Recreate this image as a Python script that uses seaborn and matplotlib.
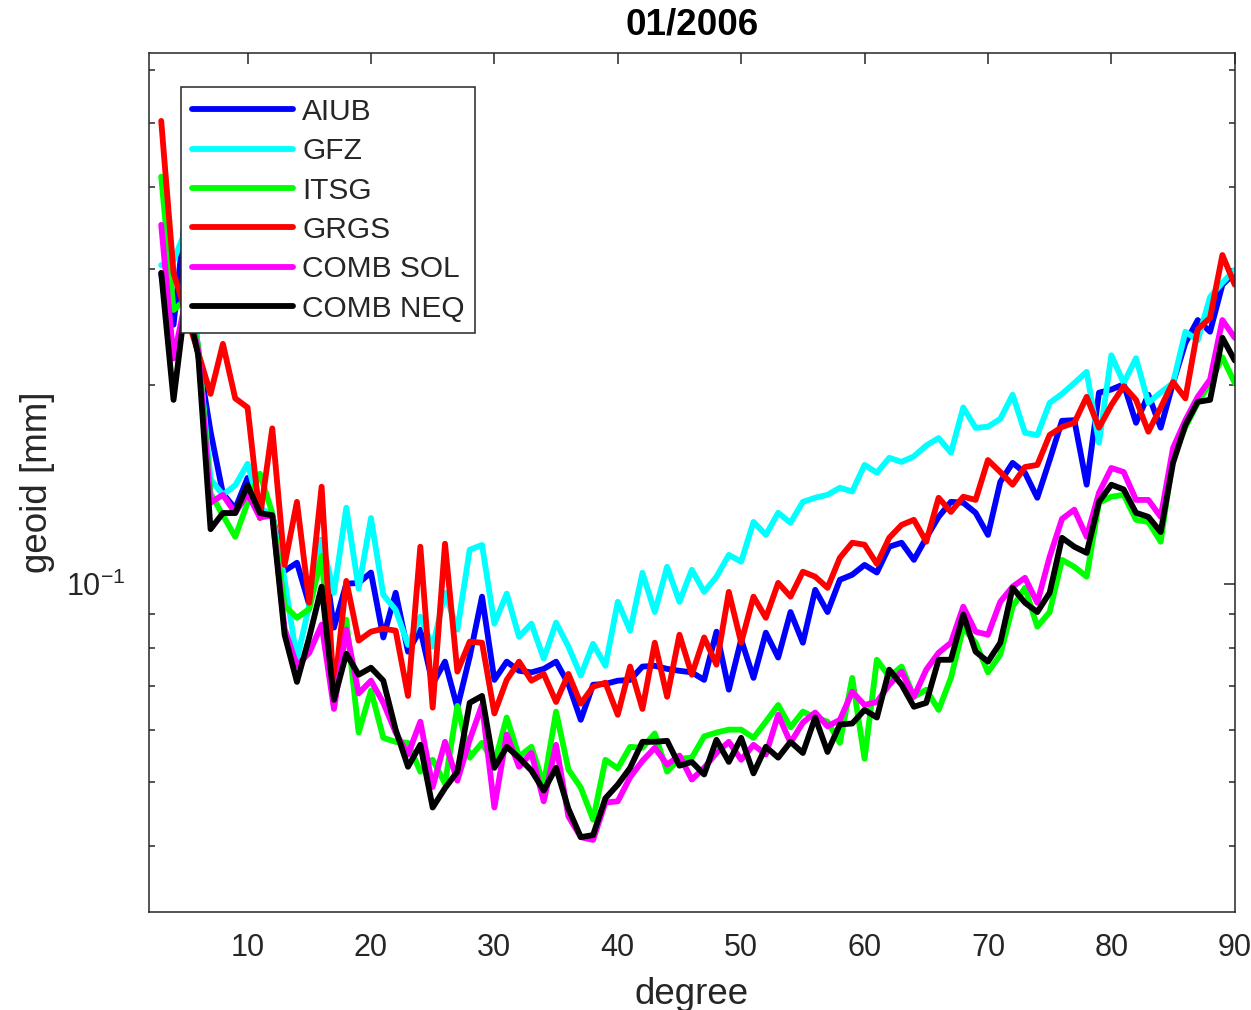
import numpy as np
import pandas as pd
import matplotlib
matplotlib.use("Agg")
import matplotlib.pyplot as plt
import seaborn as sns
from matplotlib.ticker import LogLocator, NullFormatter, FixedLocator

# ----------- DATA (geoid degree amplitudes, mm) ------------
degrees = list(range(3, 91))

aiub = [0.295, 0.247, 0.369, 0.222, 0.170, 0.137, 0.130, 0.1447, 0.1285, 0.127,
        0.1046, 0.1076, 0.0929, 0.1166, 0.0858, 0.100, 0.1003, 0.104, 0.0829, 0.0969,
        0.0789, 0.0852, 0.0705, 0.0762, 0.0649, 0.0775, 0.0956, 0.0715, 0.0762, 0.0738,
        0.0734, 0.0743, 0.0762, 0.0705, 0.0622, 0.0703, 0.0705, 0.0713, 0.0715, 0.0749,
        0.0751, 0.0743, 0.0738, 0.0734, 0.0715, 0.0846, 0.0691, 0.0823, 0.0720, 0.0843,
        0.0773, 0.0906, 0.0814, 0.0979, 0.0906, 0.1014, 0.1032, 0.1068, 0.104, 0.1138,
        0.1154, 0.1087, 0.1174, 0.1263, 0.1331, 0.1327, 0.1281, 0.1186, 0.1427, 0.1525,
        0.1473, 0.135, 0.154, 0.1766, 0.177, 0.1413, 0.1948, 0.197, 0.2006, 0.1754,
        0.1934, 0.1724, 0.2015, 0.2317, 0.251, 0.241, 0.284, 0.296]

gfz = [0.304, 0.309, 0.344, 0.226, 0.144, 0.1364, 0.141, 0.152, 0.1304, 0.127,
       0.1014, 0.0767, 0.0929, 0.1166, 0.0969, 0.1304, 0.0983, 0.1258, 0.0962, 0.0913,
       0.0808, 0.0891, 0.0803, 0.0969, 0.0852, 0.1126, 0.1145, 0.087, 0.0966, 0.0831,
       0.087, 0.0770, 0.0873, 0.0803, 0.0726, 0.0811, 0.0751, 0.0939, 0.0849, 0.1039,
       0.0906, 0.1061, 0.0939, 0.105, 0.0972, 0.1025, 0.1106, 0.108, 0.1241, 0.1186,
       0.1281, 0.1237, 0.1331, 0.1350, 0.1364, 0.1398, 0.138, 0.1514, 0.1473, 0.1552,
       0.153, 0.156, 0.162, 0.1663, 0.158, 0.185, 0.1723, 0.173, 0.1778, 0.1934,
       0.1694, 0.168, 0.188, 0.194, 0.2015, 0.2095, 0.1636, 0.222, 0.2015, 0.2197,
       0.188, 0.195, 0.2015, 0.241, 0.234, 0.272, 0.286, 0.299]

itsg = [0.414, 0.26, 0.27, 0.230, 0.137, 0.127, 0.1178, 0.1327, 0.1468, 0.128,
        0.0926, 0.0888, 0.0916, 0.1102, 0.0667, 0.0882, 0.0595, 0.0689, 0.0584, 0.0576,
        0.0574, 0.0519, 0.0541, 0.0498, 0.0653, 0.0545, 0.0574, 0.0534, 0.0627, 0.0547,
        0.0566, 0.0496, 0.0640, 0.0523, 0.0491, 0.0439, 0.0541, 0.0525, 0.0566, 0.0564,
        0.0593, 0.0519, 0.0543, 0.0545, 0.0587, 0.0595, 0.0601, 0.0601, 0.0584, 0.0618,
        0.0655, 0.0606, 0.0640, 0.0627, 0.0618, 0.0574, 0.0720, 0.0543, 0.0767, 0.0723,
        0.0749, 0.0674, 0.0691, 0.0644, 0.0720, 0.0858, 0.0814, 0.0734, 0.0781, 0.0923,
        0.0986, 0.0861, 0.0906, 0.1087, 0.1061, 0.1025, 0.1327, 0.1355, 0.1364, 0.125,
        0.1241, 0.1158, 0.1558, 0.1728, 0.1880, 0.2015, 0.2205, 0.2015]

grgs = [0.503, 0.296, 0.257, 0.224, 0.194, 0.231, 0.191, 0.185, 0.1258, 0.172,
        0.1068, 0.1331, 0.0936, 0.1403, 0.0680, 0.1010, 0.0820, 0.0846, 0.0855, 0.0849,
        0.0676, 0.1138, 0.0649, 0.115, 0.0736, 0.0817, 0.0814, 0.0636, 0.0715, 0.0762,
        0.0713, 0.0730, 0.0662, 0.0730, 0.0658, 0.0698, 0.0708, 0.0633, 0.0749, 0.0646,
        0.0814, 0.0674, 0.0837, 0.0728, 0.0829, 0.0754, 0.0972, 0.0814, 0.0956, 0.0888,
        0.1003, 0.0956, 0.1043, 0.1025, 0.0986, 0.1095, 0.1154, 0.1146, 0.1072, 0.1174,
        0.1228, 0.125, 0.1158, 0.135, 0.1285, 0.1355, 0.134, 0.154, 0.1477, 0.1413,
        0.1503, 0.1514, 0.1681, 0.1728, 0.1754, 0.192, 0.1724, 0.1866, 0.1993, 0.190,
        0.170, 0.185, 0.2022, 0.191, 0.243, 0.253, 0.315, 0.284]

comb_sol = [0.350, 0.2195, 0.27, 0.226, 0.1327, 0.1364, 0.128, 0.137, 0.126, 0.127,
            0.0855, 0.0751, 0.0786, 0.0867, 0.0646, 0.0852, 0.0682, 0.0713, 0.066, 0.0595,
            0.0551, 0.0618, 0.0492, 0.0576, 0.0503, 0.058, 0.0655, 0.0458, 0.0591, 0.0528,
            0.0554, 0.0468, 0.0570, 0.0444, 0.0413, 0.0409, 0.0466, 0.0468, 0.0509, 0.0539,
            0.0564, 0.0532, 0.0549, 0.0505, 0.0526, 0.0554, 0.0576, 0.0541, 0.0570, 0.0551,
            0.0633, 0.0574, 0.0616, 0.0638, 0.0608, 0.0622, 0.0686, 0.0655, 0.0662, 0.0703,
            0.0736, 0.0674, 0.0741, 0.0786, 0.0814, 0.0923, 0.0846, 0.0837, 0.0939, 0.0990,
            0.1021, 0.0936, 0.1099, 0.1254, 0.1295, 0.1178, 0.1374, 0.1498, 0.1477, 0.134,
            0.134, 0.1263, 0.1606, 0.177, 0.192, 0.204, 0.251, 0.236]

comb_neq = [0.296, 0.190, 0.27, 0.222, 0.121, 0.128, 0.128, 0.141, 0.128, 0.127,
            0.0837, 0.071, 0.083, 0.099, 0.0667, 0.0783, 0.0728, 0.0746, 0.0713, 0.0601,
            0.0528, 0.0570, 0.0458, 0.0490, 0.0519, 0.0660, 0.0676, 0.0526, 0.0566, 0.0545,
            0.0521, 0.0486, 0.0526, 0.0456, 0.0413, 0.0416, 0.0473, 0.0496, 0.0526, 0.0576,
            0.0576, 0.0578, 0.0530, 0.0537, 0.0514, 0.0580, 0.0537, 0.0584, 0.0516, 0.0566,
            0.0545, 0.0576, 0.0554, 0.0627, 0.0556, 0.0612, 0.0614, 0.0644, 0.0627, 0.0741,
            0.0703, 0.0651, 0.0660, 0.0767, 0.0767, 0.0898, 0.0789, 0.0762, 0.0814, 0.0986,
            0.0936, 0.0906, 0.0969, 0.1174, 0.1138, 0.1114, 0.1331, 0.1413, 0.139, 0.1281,
            0.1263, 0.1198, 0.1525, 0.174, 0.1887, 0.190, 0.236, 0.218]

names = ['AIUB', 'GFZ', 'ITSG', 'GRGS', 'COMB SOL', 'COMB NEQ']
colors = ['#0000ff', '#00ffff', '#00ff00', '#ff0000', '#ff00ff', '#000000']
series = [aiub, gfz, itsg, grgs, comb_sol, comb_neq]

# ----------- PLOT ------------
sns.set_style('white')
plt.rcParams['font.family'] = ['Liberation Sans', 'DejaVu Sans']
plt.rcParams['mathtext.default'] = 'regular'

dark = '#262626'
fig = plt.figure(figsize=(12.51, 10.10), dpi=100)
ax = fig.add_axes([0.119, 0.097, 0.868, 0.8505])

for name, col, vals in zip(names, colors, series):
    sns.lineplot(x=degrees, y=vals, color=col, linewidth=4.2, label=name, ax=ax)

ax.set_yscale('log')
ax.set_xlim(2, 90)
ax.set_ylim(0.0318, 0.6375)

ax.xaxis.set_major_locator(FixedLocator([10, 20, 30, 40, 50, 60, 70, 80, 90]))
ax.yaxis.set_major_locator(LogLocator(base=10, numticks=10))
ax.yaxis.set_minor_locator(LogLocator(base=10, subs=np.arange(2, 10), numticks=20))
ax.yaxis.set_minor_formatter(NullFormatter())

ax.tick_params(which='major', direction='in', length=8, width=1.1, colors=dark,
               labelsize=22, top=True, right=True, pad=15)
ax.tick_params(axis='y', which='major', pad=17)
ax.tick_params(which='minor', direction='in', length=4.5, width=1.1, colors=dark,
               top=False, right=True, left=True)
ax.tick_params(axis='x', which='minor', bottom=False, top=False)
for sp in ax.spines.values():
    sp.set_color(dark)
    sp.set_linewidth(1.1)

ax.set_xlabel('degree', fontsize=26.5, color=dark, labelpad=10)
ax.set_ylabel('geoid [mm]', fontsize=26.5, color=dark, labelpad=8)
ax.set_title('01/2006', fontsize=26.5, fontweight='bold', color='black', pad=13)

leg = ax.legend(loc='upper left', bbox_to_anchor=(0.030, 0.960), borderaxespad=0,
                fontsize=21.5, handlelength=3.4, handletextpad=0.3, labelspacing=0.38,
                borderpad=0.35, frameon=True, fancybox=False, edgecolor=dark)
leg.get_frame().set_linewidth(1.1)
leg.get_frame().set_alpha(1)

fig.savefig('out.png', dpi=100)
